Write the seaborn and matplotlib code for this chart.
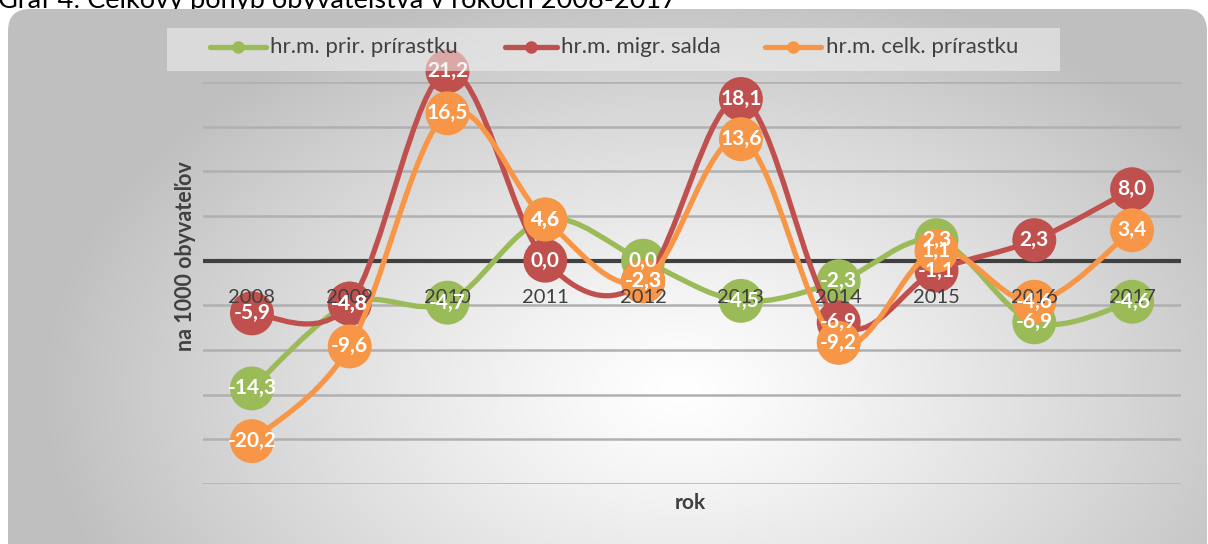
import numpy as np
import pandas as pd
import matplotlib
matplotlib.use("Agg")
import matplotlib.pyplot as plt
import seaborn as sns
from matplotlib.path import Path
from matplotlib.patches import PathPatch, FancyBboxPatch, Rectangle
from matplotlib.lines import Line2D

years = ["2008", "2009", "2010", "2011", "2012", "2013", "2014", "2015", "2016", "2017"]
prir = [-14.3, -4.8, -4.7, 4.6, 0.0, -4.5, -2.3, 2.3, -6.9, -4.6]
migr = [-5.9, -4.8, 21.2, 0.0, -2.3, 18.1, -6.9, -1.1, 2.3, 8.0]
celk = [-20.2, -9.6, 16.5, 4.6, -2.3, 13.6, -9.2, 1.1, -4.6, 3.4]
series_names = ["hr.m. prir. prírastku", "hr.m. migr. salda", "hr.m. celk. prírastku"]
colors = ["#9BBB59", "#C0504D", "#F79646"]

title = "Graf 4: Celkový pohyb obyvateľstva v rokoch 2008-2017"

sns.set_theme(style="white")
plt.rcParams['font.family'] = ['Lato', 'DejaVu Sans']

W, H = 1208, 544
fig = plt.figure(figsize=(W / 100, H / 100), dpi=100)
fig.patch.set_facecolor("white")

# background with radial gradient, clipped to a rounded rectangle
bg = fig.add_axes([0, 0, 1, 1], zorder=-5)
bg.set_xlim(0, W)
bg.set_ylim(H, 0)
bg.axis("off")
bg.text(-2, 8, title, fontsize=19.5, color="black", va="baseline", ha="left", zorder=1)
yy, xx = np.mgrid[0:H, 0:W]
cx, cy = 680, 390
r = np.sqrt(((xx - cx) / 640.0) ** 2 + ((yy - cy) / 420.0) ** 2)
t = np.clip(r, 0, 1) ** 1.2
lo, hi = np.array([1.0, 1.0, 1.0]), np.array([0.75, 0.75, 0.75])
img = lo[None, None, :] * (1 - t[..., None]) + hi[None, None, :] * t[..., None]
im = bg.imshow(img, extent=(0, W, H, 0), interpolation="bilinear", zorder=2)
box = FancyBboxPatch((8, 9), W - 9, H + 30, boxstyle="round,pad=0,rounding_size=22",
                     transform=bg.transData, facecolor="none", edgecolor="none")
bg.add_patch(box)
im.set_clip_path(box)

# main axes
left, right = 203 / W, 1181 / W
bottom, top = 1 - 484 / H, 1 - 82 / H
ax = fig.add_axes([left, bottom, right - left, top - bottom])
ax.set_facecolor("none")
x = np.arange(len(years))
ax.set_xlim(-0.5, len(years) - 0.5)
ax.set_ylim(-25, 20)
ax.set_yticks(np.arange(-25, 21, 5))
ax.yaxis.grid(True, color="#b0b0b0", linewidth=1.8)
ax.xaxis.grid(False)
for s in ax.spines.values():
    s.set_visible(False)
ax.tick_params(axis="y", left=False, labelleft=False)
ax.axhline(0, color="#404040", linewidth=3, zorder=1.5)
ax.set_xticks(x)
ax.set_xticklabels([])
for i, yr in enumerate(years):
    ax.text(i, -3.2, yr, ha="center", va="top", fontsize=14.5, color="#404040",
            zorder=15)


def smooth_path(xs, ys):
    pts = np.column_stack([xs, ys])
    n = len(pts)
    verts = [pts[0]]
    codes = [Path.MOVETO]
    for i in range(n - 1):
        p0 = pts[i - 1] if i > 0 else pts[i]
        p1 = pts[i]
        p2 = pts[i + 1]
        p3 = pts[i + 2] if i + 2 < n else pts[i + 1]
        c1 = p1 + (p2 - p0) / 6.0
        c2 = p2 - (p3 - p1) / 6.0
        verts += [c1, c2, p2]
        codes += [Path.CURVE4] * 3
    return Path(verts, codes)


data = [prir, migr, celk]
df = pd.DataFrame({"rok": np.tile(x, 3),
                   "val": np.concatenate(data),
                   "serie": np.repeat(series_names, len(years))})
for k, (name, col) in enumerate(zip(series_names, colors)):
    sub = df[df["serie"] == name]
    patch = PathPatch(smooth_path(sub["rok"].values, sub["val"].values),
                      facecolor="none", edgecolor=col, linewidth=3.8,
                      zorder=3 + 2 * k, capstyle="round", joinstyle="round")
    patch.set_clip_on(False)
    ax.add_patch(patch)
    sns.scatterplot(data=sub, x="rok", y="val", color=col, s=1000, edgecolor="none",
                    zorder=4 + 2 * k, clip_on=False, ax=ax, legend=False)

ax.set_xlabel("")
ax.set_ylabel("")

for k, vals in enumerate(data):
    for i, v in enumerate(vals):
        ax.text(i, v, f"{v:.1f}".replace(".", ","), ha="center", va="center",
                fontsize=15, fontweight="bold", color="white", zorder=20)

fig.text(186 / W, 1 - 256 / H, "na 1000 obyvateľov", rotation=90, ha="center",
         va="center", fontsize=15.5, fontweight="bold", color="#404040")
fig.text(690 / W, 1 - 503 / H, "rok", ha="center", va="center", fontsize=15,
         fontweight="bold", color="#404040")

# legend box (semi transparent) and entries
fig.patches.append(Rectangle((167 / W, 1 - 71 / H), (1060 - 167) / W, 43 / H,
                             transform=fig.transFigure, facecolor="#f2f2f2",
                             alpha=0.55, edgecolor="none", zorder=10))
leg_pos = [(210, 266, 270), (505, 557, 561), (765, 821, 826)]
for (x0, x1, xt), name, col in zip(leg_pos, series_names, colors):
    yl = 1 - 47 / H
    fig.lines.append(Line2D([x0 / W, x1 / W], [yl, yl], transform=fig.transFigure,
                            color=col, lw=3.8, solid_capstyle="round", zorder=11))
    fig.lines.append(Line2D([(x0 + x1) / 2 / W], [yl], transform=fig.transFigure,
                            color=col, marker="o", markersize=8, lw=0, zorder=11))
    fig.text(xt / W, yl, name, ha="left", va="center", fontsize=16,
             color="#404040", zorder=12)

fig.savefig("out.png", dpi=100)
